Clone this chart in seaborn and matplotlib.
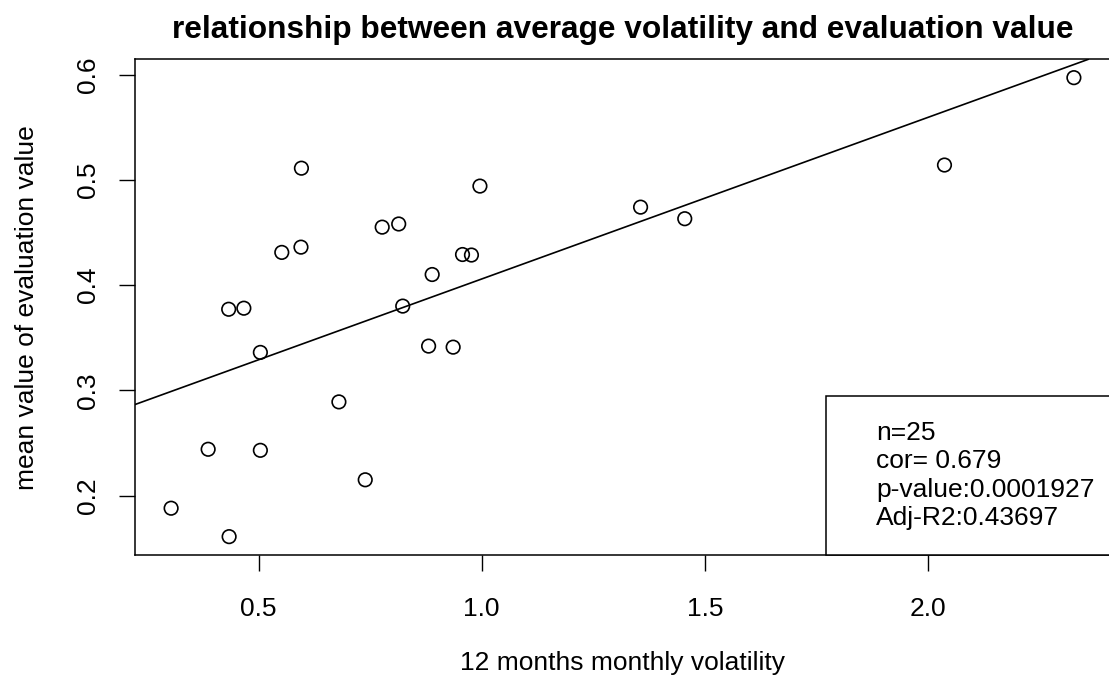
import numpy as np
import pandas as pd
import matplotlib
matplotlib.use("Agg")
import matplotlib.pyplot as plt
import seaborn as sns
from matplotlib.lines import Line2D

# ---- data ----
volatility = [0.304, 0.434, 0.387, 0.504, 0.433, 0.467, 0.504, 0.552, 0.595,
              0.596, 0.680, 0.739, 0.777, 0.814, 0.823, 0.881, 0.889, 0.936,
              0.957, 0.977, 0.996, 1.356, 1.455, 2.037, 2.327]
evaluation = [0.188, 0.161, 0.244, 0.243, 0.377, 0.378, 0.336, 0.431, 0.436,
              0.511, 0.289, 0.215, 0.455, 0.458, 0.380, 0.342, 0.410, 0.341,
              0.429, 0.4285, 0.494, 0.474, 0.463, 0.514, 0.597]
x_ticks = [0.5, 1.0, 1.5, 2.0]
y_ticks = [0.2, 0.3, 0.4, 0.5, 0.6]
stats_lines = ["n=25", "cor= 0.679", "p-value:0.0001927", "Adj-R2:0.43697"]
title = "relationship between average volatility and evaluation value"
xlab = "12 months monthly volatility"
ylab = "mean value of evaluation value"

df = pd.DataFrame({"vol": volatility, "eval": evaluation})

sns.set_theme(style="white")
plt.rcParams["font.family"] = ["Liberation Sans", "DejaVu Sans"]

fig = plt.figure(figsize=(11.09, 6.82), dpi=100)
ax = fig.add_axes([135 / 1109, 1 - 555 / 682, 975 / 1109, 495.7 / 682])

sns.scatterplot(data=df, x="vol", y="eval", ax=ax, marker="o", s=95,
                facecolor="none", edgecolor="black", linewidth=1.2, zorder=3)

# R-style 4% axis expansion
xr = max(volatility) - min(volatility)
yr = max(evaluation) - min(evaluation)
ax.set_xlim(min(volatility) - 0.04 * xr, max(volatility) + 0.04 * xr)
ax.set_ylim(min(evaluation) - 0.04 * yr, max(evaluation) + 0.04 * yr)

# least squares line (abline(lm(...)))
m, b = np.polyfit(volatility, evaluation, 1)
ax.axline((0, b), slope=m, color="black", linewidth=1.2, zorder=2)

ax.set_xticks(x_ticks)
ax.set_xticklabels([f"{v:.1f}" for v in x_ticks])
ax.set_yticks(y_ticks)
ax.set_yticklabels([f"{v:.1f}" for v in y_ticks], rotation=90, va="center")
ax.tick_params(axis="both", direction="out", length=11.5, width=1.0,
               color="black", labelsize=19, labelcolor="black",
               bottom=True, left=True)
ax.tick_params(axis="x", pad=18.5)
ax.tick_params(axis="y", pad=13.5)

for sp in ax.spines.values():
    sp.set_visible(True)
    sp.set_color("black")
    sp.set_linewidth(1.1)

ax.set_xlabel(xlab, fontsize=19, color="black", labelpad=22)
ax.set_ylabel(ylab, fontsize=19, color="black", labelpad=27)
ax.set_title(title, fontsize=22.8, fontweight="bold", color="black", pad=15)

handles = [Line2D([], [], linestyle="none") for _ in stats_lines]
leg = ax.legend(handles, stats_lines, loc="lower right",
                bbox_to_anchor=(1 + 10 / 975, 0), fontsize=19,
                frameon=True, fancybox=False, framealpha=1, edgecolor="black",
                borderaxespad=0, borderpad=0.95, handlelength=0.4,
                handletextpad=0.55, labelspacing=0.16)
leg.get_frame().set_linewidth(1.1)
for t in leg.get_texts():
    t.set_color("black")

fig.savefig("out.png", dpi=100, facecolor="white")
